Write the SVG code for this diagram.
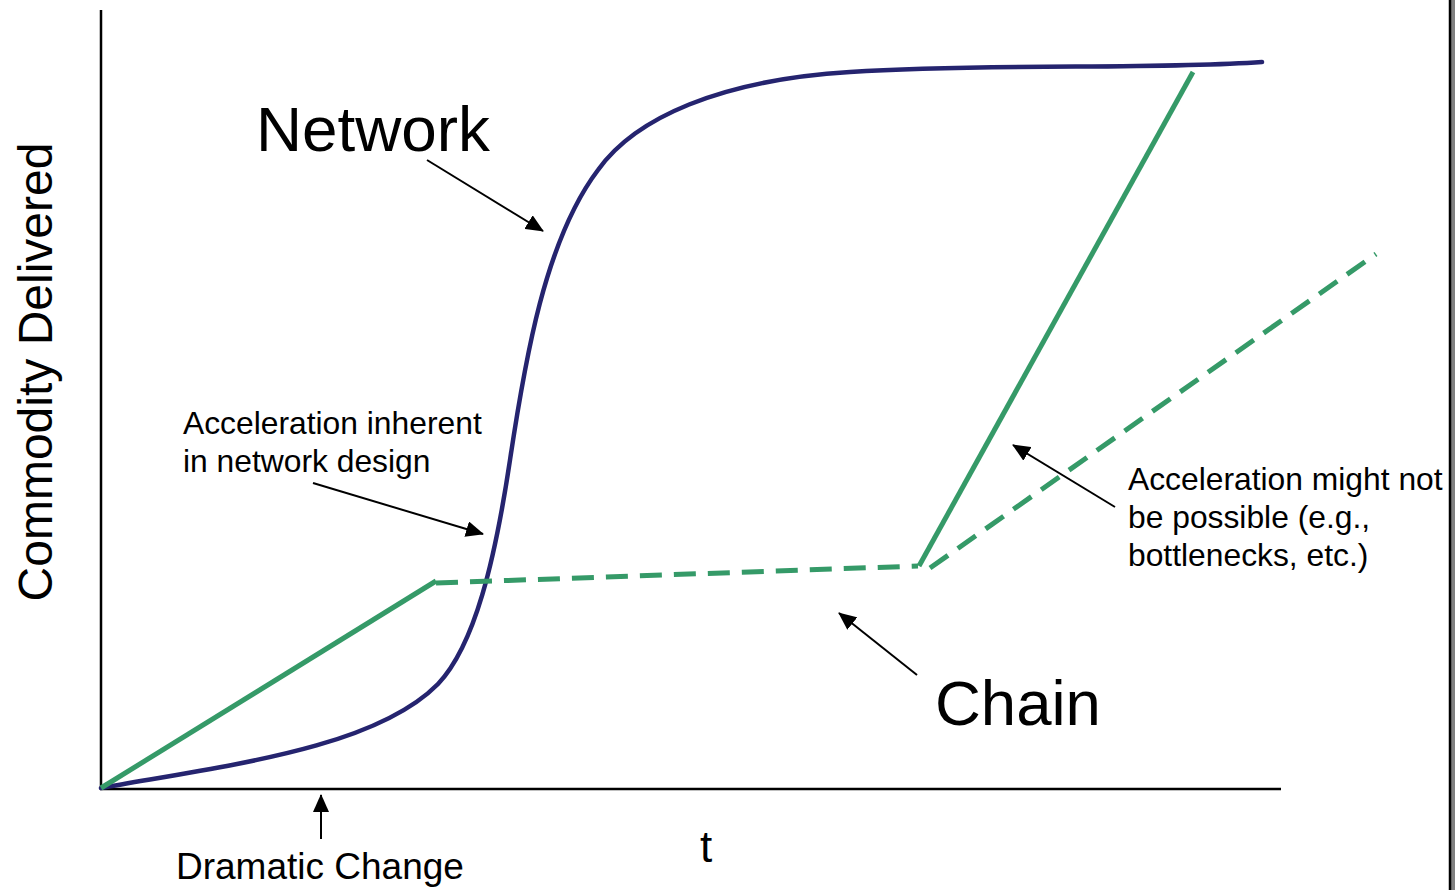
<svg xmlns="http://www.w3.org/2000/svg" width="1455" height="890" viewBox="0 0 1455 890">
<style>
text{font-family:"Liberation Sans",Arial,sans-serif;fill:#000}
.axis{stroke:#000;stroke-width:2.5;fill:none}
.net{stroke:#25246f;stroke-width:4.5;fill:none;stroke-linecap:round}
.g{stroke:#359a68;stroke-width:5;fill:none}
.gd{stroke:#359a68;stroke-width:5;fill:none;stroke-dasharray:22 12}
.ptr{stroke:#000;stroke-width:2;fill:none;marker-end:url(#ah)}
</style>
<defs>
<marker id="ah" markerWidth="9" markerHeight="8" refX="8.5" refY="4" orient="auto" markerUnits="strokeWidth">
<path d="M0,0 L9,4 L0,8 Z" fill="#000"/>
</marker>
</defs>
<rect width="1455" height="890" fill="#fff"/>
<rect x="1451" y="0" width="4" height="890" fill="#808080"/>
<line x1="1450" y1="0" x2="1450" y2="890" stroke="#000" stroke-width="2.5"/>
<g id="axes">
<line class="axis" x1="101" y1="10" x2="101" y2="789"/>
<line class="axis" x1="100" y1="789" x2="1281" y2="789"/>
</g>
<g id="network-curve">
<path class="net" d="M101,788 C230,765 375,748 438,684 C475,645 495,560 510,460 C525,360 545,240 598,170 C635,118 720,80 850,72 C1000,63 1150,70 1262,62"/>
</g>
<g id="chain-lines">
<line class="g" x1="101" y1="788" x2="436" y2="581"/>
<line class="gd" x1="436" y1="583" x2="918" y2="566"/>
<line class="g" x1="919" y1="566" x2="1193" y2="72"/>
<line class="gd" x1="930" y1="568" x2="1376" y2="254"/>
</g>
<g id="connectors">
<line class="ptr" x1="427" y1="160" x2="543" y2="231"/>
<line class="ptr" x1="313" y1="483" x2="483" y2="534"/>
<line class="ptr" x1="917" y1="675" x2="839" y2="613"/>
<line class="ptr" x1="1115" y1="507" x2="1013" y2="445"/>
<line class="ptr" x1="321" y1="839" x2="321" y2="795"/>
</g>
<g id="label-y"><text x="0" y="0" font-size="48" text-anchor="middle" transform="translate(52,372) rotate(-90)">Commodity Delivered</text></g>
<g id="label-t"><text x="706" y="862" font-size="44" text-anchor="middle">t</text></g>
<g id="label-network"><text x="256" y="151" font-size="63.8">Network</text></g>
<g id="label-chain"><text x="935" y="725" font-size="63.5">Chain</text></g>
<g id="label-dramatic"><text x="176" y="879" font-size="37">Dramatic Change</text></g>
<g id="label-accel-inherent"><text x="183" font-size="31.8"><tspan x="183" y="434">Acceleration inherent</tspan><tspan x="183" y="472">in network design</tspan></text></g>
<g id="label-accel-might"><text x="1128" font-size="31.8"><tspan x="1128" y="490">Acceleration might not</tspan><tspan x="1128" y="528">be possible (e.g.,</tspan><tspan x="1128" y="566">bottlenecks, etc.)</tspan></text></g>
</svg>
